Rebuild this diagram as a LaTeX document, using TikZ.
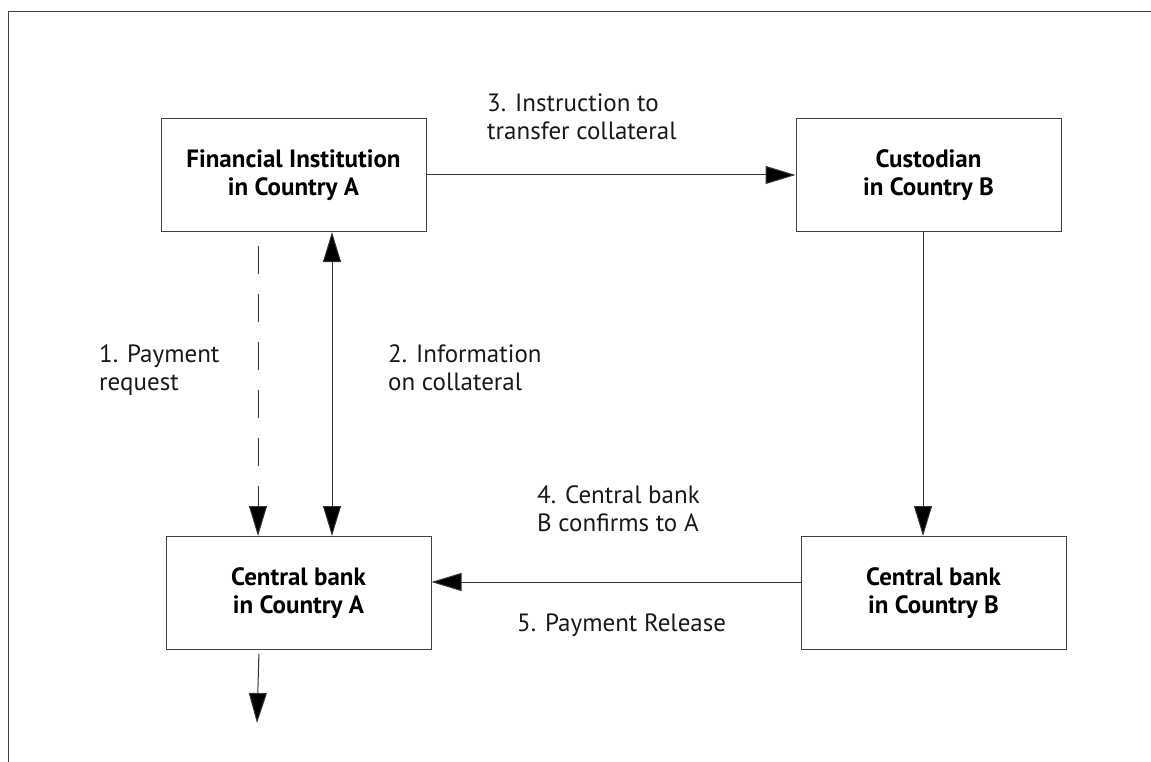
\documentclass[tikz,border=0pt]{standalone}
\usepackage{fontspec}
\setmainfont{PT Sans}
\usetikzlibrary{arrows.meta}

\begin{document}
\begin{tikzpicture}[x=1pt,y=-1pt,
  box/.style={draw=black!75,line width=1pt,minimum width=265pt,minimum height=113pt,
    align=center,font=\bfseries\fontsize{25}{28}\selectfont},
  lbl/.style={anchor=north west,align=left,inner sep=0pt,text=black!90,
    font=\fontsize{25}{28}\selectfont},
  arr/.style={-{Triangle[length=30pt,width=18pt,fill=black]},line width=1pt,draw=black!80}]
\useasboundingbox (0,0) rectangle (1151,762);

% Frame
\draw[line width=1pt,black!75] (8,762) -- (8,12) -- (1151,12);

% Boxes
\node[box] (fia) at (293.5,175) {Financial Institution\\in Country A};
\node[box] (cusb) at (928.5,175) {Custodian\\in Country B};
\node[box] (cba) at (298.5,593) {Central bank\\in Country A};
\node[box] (cbb) at (933.5,593) {Central bank\\in Country B};
\coordinate (out) at (257,723);

% Arrows
\draw[arr] (fia) -- (cusb);
\draw[arr] ([xshift=-5.5pt]cusb.south) -- ([xshift=-10.5pt]cbb.north);
\draw[arr,dashed,dash pattern=on 28pt off 20pt,shorten <=14pt]
  ([xshift=-35.5pt]fia.south) -- ([xshift=-40.5pt]cba.north);
\draw[arr,{Triangle[length=30pt,width=18pt,fill=black]}-{Triangle[length=30pt,width=18pt,fill=black]}]
  ([xshift=38.5pt]fia.south) -- ([xshift=33.5pt]cba.north);
\draw[arr] ([yshift=11pt]cbb.west) -- ([yshift=11pt]cba.east);
\draw[arr,shorten <=4pt] ([xshift=-39.5pt]cba.south) -- (out);

% Labels
\node[lbl] (l3) at (487,94) {3. Instruction to\\transfer collateral};
\node[lbl] (l1) at (99,344) {1. Payment\\request};
\node[lbl] (l2) at (388,344) {2. Information\\on collateral};
\node[lbl] (l4) at (537,485) {4. Central bank\\B confirms to A};
\node[lbl] (l5) at (517,614) {5. Payment Release};

\end{tikzpicture}
\end{document}
